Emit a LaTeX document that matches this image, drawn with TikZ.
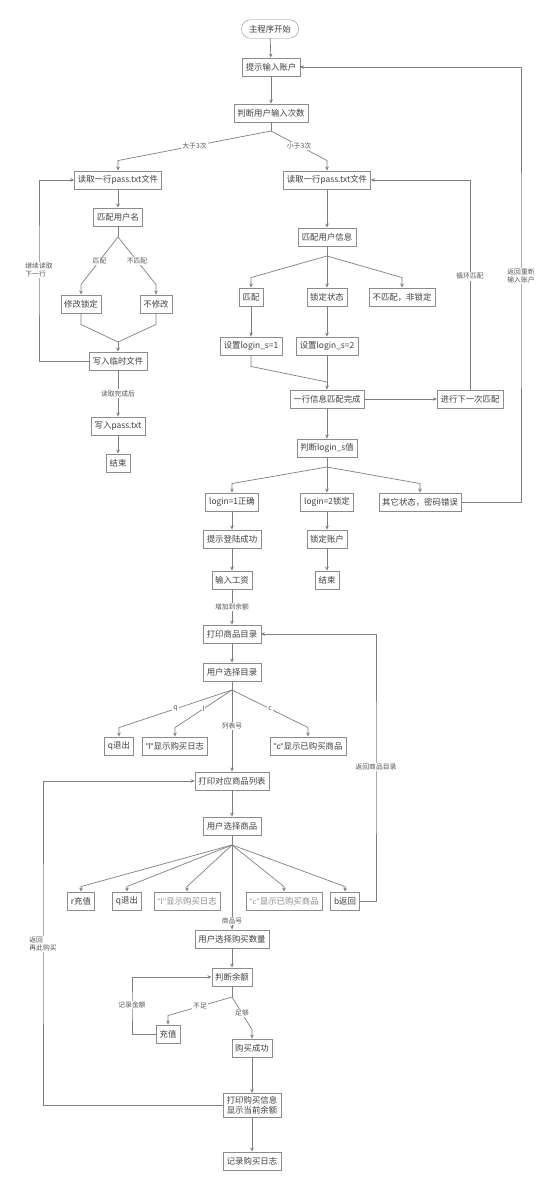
\documentclass[tikz,border=0pt]{standalone}
\usepackage{fontspec}
\setmainfont{Noto Sans CJK SC}
\newfontfamily\latsans{Liberation Sans}
\newfontfamily\latserif{Liberation Serif}
\usepackage{xcolor}
\usetikzlibrary{arrows.meta}

\definecolor{boxgray}{HTML}{8C8C8C}
\definecolor{linegray}{HTML}{7F7F7F}
\definecolor{txtgray}{HTML}{3F3F3F}
\definecolor{lblgray}{HTML}{555555}
\definecolor{fadegray}{HTML}{8A8A8A}

\begin{document}
\begin{tikzpicture}[
		x=1pt, y=-1pt,
		t/.style = {rectangle, draw=boxgray, fill=white, text=txtgray, font=\fontsize{8.4}{10}\selectfont, inner xsep=3.5pt, inner ysep=1pt, minimum height=18.5pt},
		tl/.style = {t, text=fadegray},
		lbl/.style = {fill=white, text=lblgray, font=\fontsize{6.8}{8}\selectfont, inner sep=1pt, align=left},
		r/.style = {-{Stealth[length=4pt, width=3.6pt]}, draw=linegray, line width=0.7pt},
		ln/.style = {draw=linegray, line width=0.7pt}
		]
		
		\path[fill=white] (0,0) rectangle (558,1190);
		
		%Nodes
		\node[t, rounded corners=9pt, minimum width=57pt]	(start)	at	(270,29)	{主程序开始};
		\node[t]	(inacc)		at	(271,67)	{提示输入账户};
		\node[t]	(cnt)		at	(271,113)	{判断用户输入次数};
		
		\node[t]	(lread)		at	(118,180)	{读取一行pass.txt文件};
		\node[t]	(lname)		at	(118,217)	{匹配用户名};
		\node[t]	(lmod)		at	(81,304)	{修改锁定};
		\node[t]	(lkeep)		at	(156,304)	{不修改};
		\node[t]	(ltmp)		at	(118,361)	{写入临时文件};
		\node[t]	(lwrite)	at	(118,426)	{写入pass.txt};
		\node[t]	(lend)		at	(118,463)	{结束};
		
		\node[t]	(rread)		at	(327,180)	{读取一行pass.txt文件};
		\node[t]	(rinfo)		at	(327,237)	{匹配用户信息};
		\node[t]	(rok)		at	(251,297)	{匹配};
		\node[t]	(rlock)		at	(327,297)	{锁定状态};
		\node[t]	(rno)		at	(402,297)	{不匹配，非锁定};
		\node[t]	(rs1)		at	(251,346)	{设置login\_s=1};
		\node[t]	(rs2)		at	(327,346)	{设置login\_s=2};
		\node[t]	(rdone)		at	(327,399)	{一行信息匹配完成};
		\node[t]	(rnext)		at	(470,399)	{进行下一次匹配};
		\node[t]	(rjudge)	at	(327,448)	{判断login\_s值};
		
		\node[t]	(ok1)		at	(232,502)	{login=1正确};
		\node[t]	(lock2)		at	(327,502)	{login=2锁定};
		\node[t]	(err)		at	(420,502)	{其它状态，密码错误};
		\node[t]	(okmsg)		at	(232,539)	{提示登陆成功};
		\node[t]	(lockacc)	at	(327,539)	{锁定账户};
		\node[t]	(salary)	at	(232,580)	{输入工资};
		\node[t]	(lockend)	at	(327,580)	{结束};
		
		\node[t]	(menu)		at	(232,634)	{打印商品目录};
		\node[t]	(pickmenu)	at	(232,672)	{用户选择目录};
		\node[t]	(mq)		at	(119,746)	{q退出};
		\node[t]	(ml)		at	(175,746)	{{\latsans"l"}显示购买日志};
		\node[t]	(mc)		at	(308,746)	{{\latsans"c"}显示已购买商品};
		
		\node[t]	(list)		at	(232,781)	{打印对应商品列表};
		\node[t]	(pick)		at	(232,826)	{用户选择商品};
		\node[t]	(pr)		at	(81,901)	{r充值};
		\node[t]	(pq)		at	(127,901)	{q退出};
		\node[tl]	(pl)		at	(187,901)	{{\latserif"l"}显示购买日志};
		\node[tl]	(pc)		at	(284,901)	{{\latserif"c"}显示已购买商品};
		\node[t]	(pb)		at	(345,901)	{b返回};
		
		\node[t]	(num)		at	(232,939)	{用户选择购买数量};
		\node[t]	(bal)		at	(232,977)	{判断余额};
		\node[t]	(charge)	at	(168,1034)	{充值};
		\node[t]	(buyok)		at	(252,1048)	{购买成功};
		\node[t, align=center, inner ysep=3pt]	(info)	at	(252,1105)	{打印购买信息\\显示当前余额};
		\node[t]	(log)		at	(252,1161)	{记录购买日志};
		
		%Coordinates
		\coordinate	(s1)	at	(271,131);
		\coordinate	(m1)	at	(118,342);
		\coordinate	(s2)	at	(327,256);
		\coordinate	(m2)	at	(327,382);
		\coordinate	(s3)	at	(327,467);
		\coordinate	(s4)	at	(232,690);
		\coordinate	(s5)	at	(232,845);
		\coordinate	(s6)	at	(232,997);
		\coordinate	(sl)	at	(118,237);
		\coordinate	(railA)	at	(39,270);
		\coordinate	(railE)	at	(521,276);
		\coordinate	(railB)	at	(376,767);
		\coordinate	(railC)	at	(132,1005);
		\coordinate	(railD)	at	(43,944);
		
		%Lines
		\draw[r]	(start)		--	(inacc);
		\draw[r]	(inacc)		--	(cnt);
		\draw[ln]	(cnt)		--	(s1);
		\draw[r]	(s1)	--	node[lbl]	{大于3次}	([yshift=10pt]lread.north)	--	(lread.north);
		\draw[r]	(s1)	--	node[lbl]	{小于3次}	([yshift=10pt]rread.north)	--	(rread.north);
		
		\draw[r]	(lread)		--	(lname);
		\draw[ln]	(lname)		--	(sl);
		\draw[r]	(sl)	--	node[lbl]	{匹配}		([yshift=10pt]lmod.north)	--	(lmod.north);
		\draw[r]	(sl)	--	node[lbl]	{不匹配}	([yshift=10pt]lkeep.north)	--	(lkeep.north);
		\draw[ln]	(lmod.south)	--	++(0,11)	--	(m1);
		\draw[ln]	(lkeep.south)	--	++(0,11)	--	(m1);
		\draw[r]	(m1)		--	(ltmp);
		\draw[r]	(ltmp.west)	-|	(railA)	node[lbl]	{继续读取\\下一行}	|-	(lread.west);
		\draw[r]	(ltmp)		--	node[lbl]	{读取完成后}	(lwrite);
		\draw[r]	(lwrite)	--	(lend);
		
		\draw[r]	(rread)		--	(rinfo);
		\draw[ln]	(rinfo)		--	(s2);
		\draw[r]	(s2)	--	([yshift=10pt]rok.north)	--	(rok.north);
		\draw[r]	(s2)	--	(rlock);
		\draw[r]	(s2)	--	([yshift=10pt]rno.north)	--	(rno.north);
		\draw[r]	(rok)		--	(rs1);
		\draw[r]	(rlock)		--	(rs2);
		\draw[ln]	(rs1.south)	--	++(0,11)	--	(m2);
		\draw[r]	(rs2)		--	(rdone);
		\draw[r]	(rdone)		--	(rnext);
		\draw[r]	(rnext.north)	|-	node[lbl, pos=0.27]	{循环匹配}	(rread.east);
		\draw[r]	(rdone)		--	(rjudge);
		
		\draw[ln]	(rjudge)	--	(s3);
		\draw[r]	(s3)	--	([yshift=9pt]ok1.north)	--	(ok1.north);
		\draw[r]	(s3)	--	(lock2);
		\draw[r]	(s3)	--	([yshift=9pt]err.north)	--	(err.north);
		\draw[r]	(err.east)	-|	(railE)	node[lbl]	{返回重新\\输入账户}	|-	(inacc.east);
		\draw[r]	(ok1)		--	(okmsg);
		\draw[r]	(okmsg)		--	(salary);
		\draw[r]	(salary)	--	node[lbl]	{增加到余额}	(menu);
		\draw[r]	(lock2)		--	(lockacc);
		\draw[r]	(lockacc)	--	(lockend);
		
		\draw[r]	(menu)		--	(pickmenu);
		\draw[ln]	(pickmenu)	--	(s4);
		\draw[r]	(s4)	--	node[lbl]	{q}	([yshift=9pt]mq.north)	--	(mq.north);
		\draw[r]	(s4)	--	node[lbl]	{l}	([yshift=9pt]ml.north)	--	(ml.north);
		\draw[r]	(s4)	--	node[lbl]	{c}	([yshift=9pt]mc.north)	--	(mc.north);
		\draw[r]	(s4)	--	node[lbl, pos=0.44]	{列表号}	(list);
		
		\draw[r]	(list)		--	(pick);
		\draw[ln]	(pick)		--	(s5);
		\draw[r]	(s5)	--	([yshift=5pt]pr.north)	--	(pr.north);
		\draw[r]	(s5)	--	([yshift=5pt]pq.north)	--	(pq.north);
		\draw[r]	(s5)	--	([yshift=5pt]pl.north)	--	(pl.north);
		\draw[r]	(s5)	--	([yshift=5pt]pc.north)	--	(pc.north);
		\draw[r]	(s5)	--	([yshift=5pt]pb.north)	--	(pb.north);
		\draw[r]	(s5)	--	node[lbl, pos=0.9]	{商品号}	(num);
		\draw[r]	(pb.east)	-|	(railB)	node[lbl]	{返回商品目录}	|-	(menu.east);
		
		\draw[r]	(num)		--	(bal);
		\draw[ln]	(bal)		--	(s6);
		\draw[r]	(s6)	--	node[lbl]	{不足}	([yshift=9pt]charge.north)	--	(charge.north);
		\draw[r]	(s6)	--	node[lbl]	{足够}	([yshift=9pt]buyok.north)	--	(buyok.north);
		\draw[r]	(charge.west)	-|	(railC)	node[lbl]	{记录金额}	|-	(bal.west);
		\draw[r]	(buyok)		--	(info);
		\draw[r]	(info.west)	-|	(railD)	node[lbl]	{返回\\再此购买}	|-	(list.west);
		\draw[r]	(info)		--	(log);
	\end{tikzpicture}
\end{document}
